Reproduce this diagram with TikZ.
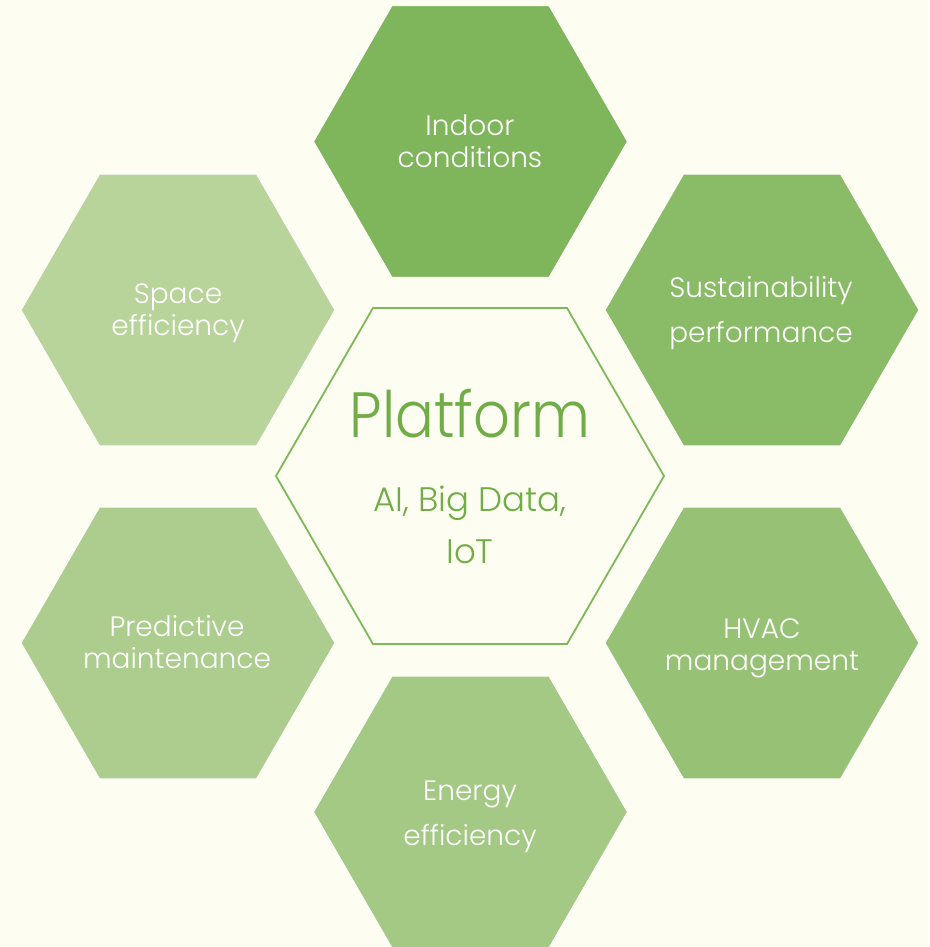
\documentclass[tikz,border=0pt]{standalone}
\usepackage{fontspec}
\setmainfont{Poppins}[UprightFont=* Light]
\definecolor{bg}{HTML}{FEFDF1}
\definecolor{hA}{HTML}{7FB65B}
\definecolor{hB}{HTML}{8ABB66}
\definecolor{hC}{HTML}{97C276}
\definecolor{hD}{HTML}{A3C985}
\definecolor{hE}{HTML}{ACCD8E}
\definecolor{hF}{HTML}{B8D49B}
\definecolor{ctext}{HTML}{70AD47}
\definecolor{cline}{HTML}{7DB85A}
\tikzset{
  hexfill/.style={draw=white, line width=1pt, line join=miter},
  lbl/.style={text=white, align=center, anchor=base, inner sep=0pt},
  twolineA/.style={lbl, font=\fontsize{28}{32}\selectfont},
  twolineB/.style={lbl, font=\fontsize{28}{45}\selectfont},
}
\newcommand\myhex[3]{% center, radius, style
  \path[#3] (#1) +(0:#2) -- +(60:#2) -- +(120:#2) -- +(180:#2) -- +(240:#2) -- +(300:#2) -- cycle;}
\begin{document}
\begin{tikzpicture}[x=1pt,y=-1pt]
\fill[bg] (0,0) rectangle (929,947);
\useasboundingbox (0,0) rectangle (929,947);
\begin{scope}
\clip (0,0) rectangle (929,947);
\coordinate (cT) at (470.5,141.5);
\coordinate (cUR) at (762,310);
\coordinate (cLR) at (762,643);
\coordinate (cB) at (470.5,812);
\coordinate (cLL) at (178,643);
\coordinate (cUL) at (178,310);
\coordinate (cC) at (470,476);
\myhex{cT}{157pt}{hexfill, fill=hA}
\myhex{cUR}{157pt}{hexfill, fill=hB}
\myhex{cLR}{157pt}{hexfill, fill=hC}
\myhex{cB}{157pt}{hexfill, fill=hD}
\myhex{cLL}{157pt}{hexfill, fill=hE}
\myhex{cUL}{157pt}{hexfill, fill=hF}
\myhex{cC}{194pt}{draw=cline, line width=1.8pt, fill=bg}
\end{scope}
\node[twolineA] (tT) at (470,167) {Indoor\\conditions};
\node[twolineB] (tUR) at (761,342) {Sustainability\\performance};
\node[twolineA] (tUL) at (178,335) {Space\\efficiency};
\node[twolineA] (tLL) at (177,668) {Predictive\\maintenance};
\node[twolineA] (tLR) at (762,670) {HVAC\\management};
\node[twolineB] (tB) at (470,845) {Energy\\efficiency};
\node[lbl, text=ctext, font=\fontsize{64}{64}\selectfont, xscale=0.9, transform shape] (title) at (470,437) {Platform};
\node[lbl, text=ctext, font=\fontsize{34}{52}\selectfont] (sub) at (470,563) {AI, Big Data,\\IoT};
\end{tikzpicture}
\end{document}
